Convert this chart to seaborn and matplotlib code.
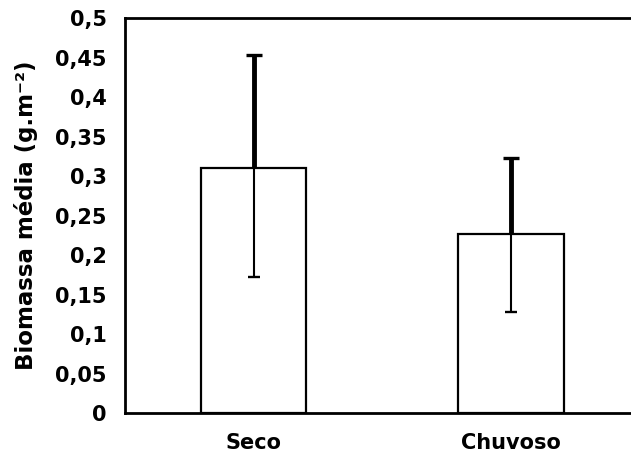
import numpy as np
import pandas as pd
import matplotlib
matplotlib.use("Agg")
import matplotlib.pyplot as plt
import seaborn as sns

# data
periodos = ["Seco", "Chuvoso"]
biomassa = [0.310, 0.227]
erro_sup = [0.143, 0.096]   # upper part of the error bar
erro_inf = [0.138, 0.099]   # lower part of the error bar
y_ticks = [0, 0.05, 0.1, 0.15, 0.2, 0.25, 0.3, 0.35, 0.4, 0.45, 0.5]

df = pd.DataFrame({"periodo": periodos, "biomassa": biomassa})

sns.set_style("white")
plt.rcParams["font.family"] = ["DejaVu Sans"]
plt.rcParams["font.weight"] = "bold"
plt.rcParams["text.color"] = "black"
plt.rcParams["axes.labelcolor"] = "black"

fig = plt.figure(figsize=(6.31, 4.57), dpi=100)
ax = fig.add_axes([0.198, 0.0956, 0.816, 0.865])

sns.barplot(data=df, x="periodo", y="biomassa", color="white",
            edgecolor="black", linewidth=1.6, width=0.41, errorbar=None, ax=ax)

pos = np.arange(len(periodos))
media = np.array(biomassa)
topo = media + np.array(erro_sup)
base = media - np.array(erro_inf)

# thick upper whisker, thin lower whisker (as in the original)
ax.vlines(pos, media, topo, color="black", linewidth=3.5, zorder=3)
ax.vlines(pos, base, media, color="black", linewidth=1.5, zorder=3)
ax.plot(pos, topo, ls="none", marker="_", markersize=11, mew=2.4,
        color="black", zorder=3)
ax.plot(pos, base, ls="none", marker="_", markersize=8, mew=1.7,
        color="black", zorder=3)

ax.set_xlim(-0.5, 1.5)
ax.set_ylim(0, 0.5)
ax.set_yticks(y_ticks)
ax.set_yticklabels([f"{t:g}".replace(".", ",") for t in y_ticks])

ax.set_xlabel("")
ax.set_ylabel("Biomassa média (g.m⁻²)", fontsize=16.5, fontweight="bold",
              color="black")
ax.yaxis.set_label_coords(-0.168, 0.5)

ax.tick_params(axis="y", direction="in", length=6, width=1.6, pad=13,
               labelsize=15, colors="black")
ax.tick_params(axis="x", length=0, pad=14, labelsize=15, colors="black")
for lab in ax.get_xticklabels() + ax.get_yticklabels():
    lab.set_fontweight("bold")

for side in ["left", "bottom", "top"]:
    ax.spines[side].set_color("black")
    ax.spines[side].set_linewidth(2)
ax.spines["right"].set_visible(False)

fig.savefig("out.png", dpi=100)
